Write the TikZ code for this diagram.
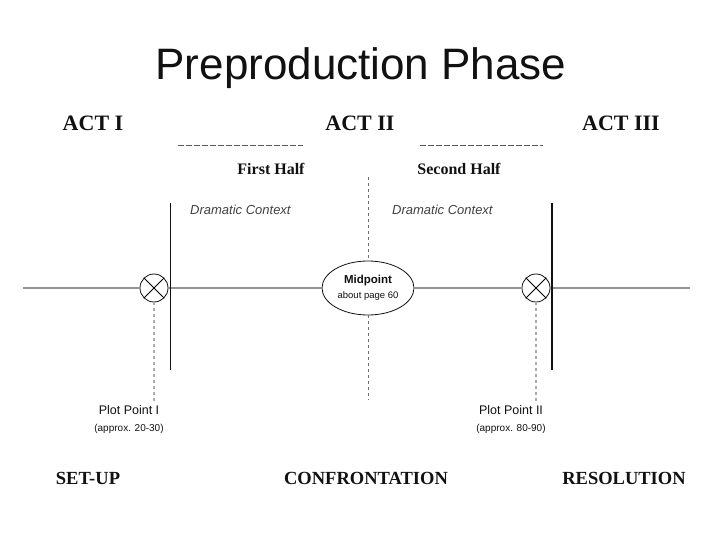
\documentclass[tikz,border=0pt]{standalone}
\usepackage{fontspec}
\setmainfont{Liberation Serif}
\setsansfont{Liberation Sans}
\usetikzlibrary{positioning,shapes.geometric}
\definecolor{ink}{HTML}{111111}
\definecolor{rulegray}{HTML}{939393}
\definecolor{guidegray}{HTML}{ABABAB}
\tikzset{
  every node/.style={text=ink,inner sep=0pt},
  title/.style={font=\sffamily\fontsize{44}{50}\selectfont},
  actlabel/.style={font=\bfseries\fontsize{22}{26}\selectfont},
  halflabel/.style={font=\bfseries\fontsize{16}{19}\selectfont},
  ctxlabel/.style={font=\sffamily\itshape\fontsize{13}{15}\selectfont,text=ink!80,anchor=west},
  beatlabel/.style={font=\bfseries\fontsize{18.5}{22}\selectfont},
  plotlabel/.style={font=\sffamily\fontsize{12.5}{14}\selectfont,align=center},
  turnpt/.style={circle,draw=ink,thick,minimum size=28pt,fill=white},
  midpt/.style={ellipse,draw=ink,thick,minimum width=92pt,minimum height=54pt,align=center,font=\sffamily},
  timeline/.style={draw=rulegray,line width=2.2pt},
  divider/.style={draw=ink,line width=0.8pt},
  midguide/.style={draw=ink!60,dashed,line width=0.5pt},
  plotguide/.style={draw=guidegray,dashed,line width=1.5pt},
  halfrule/.style={draw=ink!70,dash pattern=on 6pt off 2pt,line width=0.5pt},
}

\begin{document}
\begin{tikzpicture}[x=1pt,y=-1pt]
\useasboundingbox (0,0) rectangle (720,540);

% title
\node[title,anchor=base] (ttl) at (361,80) {Preproduction Phase};

% acts and halves
\node[actlabel] (act1) at (93,123) {ACT I};
\node[actlabel] (act2) at (360,123) {ACT II};
\node[actlabel] (act3) at (621,123) {ACT III};
\coordinate (h1a) at (178,145); \coordinate (h1b) at (303,145);
\coordinate (h2a) at (420,145); \coordinate (h2b) at (543,145);
\draw[halfrule] (h1a) -- (h1b);
\draw[halfrule] (h2a) -- (h2b);
\node[halflabel] (half1) at (271,169) {First Half};
\node[halflabel] (half2) at (459,169) {Second Half};
\node[ctxlabel] (ctx1) at (190,210) {Dramatic Context};
\node[ctxlabel] (ctx2) at (392,210) {Dramatic Context};

% timeline
\node[turnpt] (pp1) at (154,288) {};
\node[turnpt] (pp2) at (536,288) {};
\draw[thick] (pp1.45) -- (pp1.225) (pp1.135) -- (pp1.315);
\draw[thick] (pp2.45) -- (pp2.225) (pp2.135) -- (pp2.315);
\node[midpt] (mid) at (368,288)
{{\bfseries\fontsize{11.5}{13}\selectfont Midpoint}\\[3pt]{\fontsize{9.5}{11}\selectfont about page 60}};
\coordinate (tl0) at (23,288); \coordinate (tl1) at (690,288);
\draw[timeline] (tl0) -- (pp1) -- (mid) -- (pp2) -- (tl1);

% act breaks
\coordinate (d1t) at (170,203); \coordinate (d1b) at (170,370);
\coordinate (d2t) at (552,203); \coordinate (d2b) at (552,370);
\draw[divider] (d1t) -- (d1b);
\draw[divider,line width=1.4pt] (d2t) -- (d2b);
\coordinate (mt) at (368,177); \coordinate (mb) at (368,400);
\draw[midguide] (mt) -- (mid);
\draw[midguide] (mid) -- (mb);

% plot points
\coordinate (g1) at (154,402); \coordinate (g2) at (536,402);
\draw[plotguide] (pp1) -- (g1);
\draw[plotguide] (pp2) -- (g2);
\node[plotlabel,anchor=north] (lbl1) at (129,405)
{Plot Point I\\[3pt]{\fontsize{10}{12}\selectfont (approx. 20-30)}};
\node[plotlabel,anchor=north] (lbl2) at (511,405)
{Plot Point II\\[3pt]{\fontsize{10}{12}\selectfont (approx. 80-90)}};

% beats
\node[beatlabel] (setup) at (88,478) {SET-UP};
\node[beatlabel] (confr) at (366,478) {CONFRONTATION};
\node[beatlabel] (resol) at (624,478) {RESOLUTION};

\end{tikzpicture}
\end{document}
